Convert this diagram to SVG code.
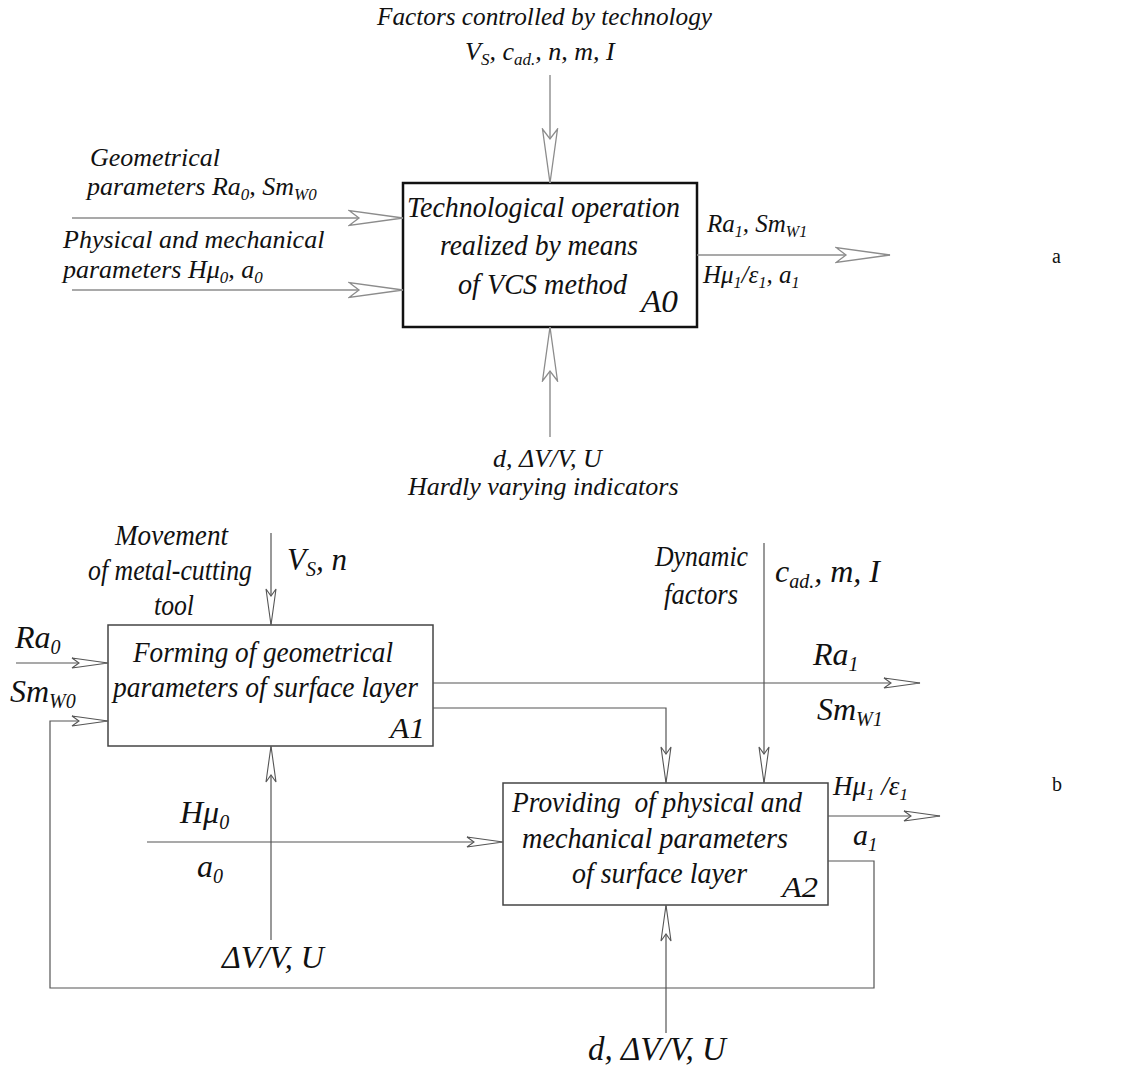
<svg xmlns="http://www.w3.org/2000/svg" width="1137" height="1068" viewBox="0 0 1137 1068">
<style>
.t{font-family:"Liberation Serif","Times New Roman","DejaVu Serif",serif;font-style:italic;fill:#111}
.lbl{font-family:"Liberation Serif","Times New Roman","DejaVu Serif",serif;font-size:20px;fill:#111}
.ca{fill:none;stroke:#8c8c8c;stroke-width:1.4}
.cb{fill:none;stroke:#555;stroke-width:1.2}
.boxA{fill:#fff;stroke:#111;stroke-width:2.5}
.boxB{fill:#fff;stroke:#444;stroke-width:1.5}
</style>
<defs>
<marker id="ha" markerUnits="userSpaceOnUse" viewBox="0 -9 57 18" markerWidth="57" markerHeight="18" refX="55" refY="0" orient="auto">
<path d="M55,0 L1,-7.5 L11,0 L1,7.5 Z" fill="#fff" stroke="#8c8c8c" stroke-width="1.3"/>
</marker>
<marker id="hb" markerUnits="userSpaceOnUse" viewBox="0 -7 39 14" markerWidth="39" markerHeight="14" refX="37" refY="0" orient="auto">
<path d="M37,0 L1,-5 L8,0 L1,5 Z" fill="#fff" stroke="#555" stroke-width="1.1"/>
</marker>
</defs>
<rect width="1137" height="1068" fill="#fff"/>

<g id="node-A0">
<rect class="boxA" x="403" y="183" width="294" height="144"/>
<text class="t" x="407" y="217" font-size="30" textLength="273" lengthAdjust="spacingAndGlyphs">Technological operation</text>
<text class="t" x="440" y="255" font-size="30" textLength="198" lengthAdjust="spacingAndGlyphs">realized by means</text>
<text class="t" x="458" y="294" font-size="30" textLength="169" lengthAdjust="spacingAndGlyphs">of VCS method</text>
<text class="t" x="641" y="312" font-size="31" textLength="37" lengthAdjust="spacingAndGlyphs">A0</text>
</g>

<g id="node-A1">
<rect class="boxB" x="108" y="625" width="325" height="121"/>
<text class="t" x="133" y="662" font-size="29" textLength="260" lengthAdjust="spacingAndGlyphs">Forming of geometrical</text>
<text class="t" x="113" y="697" font-size="29" textLength="305" lengthAdjust="spacingAndGlyphs">parameters of surface layer</text>
<text class="t" x="390" y="738" font-size="29" textLength="35" lengthAdjust="spacingAndGlyphs">A1</text>
</g>

<g id="node-A2">
<rect class="boxB" x="503" y="783" width="325" height="122"/>
<text class="t" x="512" y="812" font-size="29" textLength="290" lengthAdjust="spacingAndGlyphs" xml:space="preserve">Providing  of physical and</text>
<text class="t" x="522" y="848" font-size="29" textLength="266" lengthAdjust="spacingAndGlyphs">mechanical parameters</text>
<text class="t" x="572" y="883" font-size="29" textLength="175" lengthAdjust="spacingAndGlyphs">of surface layer</text>
<text class="t" x="782" y="897" font-size="30" textLength="36" lengthAdjust="spacingAndGlyphs">A2</text>
</g>

<g id="connectors">
<path class="ca" d="M550,75 V183" marker-end="url(#ha)"/>
<path class="ca" d="M550,437 V327" marker-end="url(#ha)"/>
<path class="ca" d="M72,218 H403" marker-end="url(#ha)"/>
<path class="ca" d="M72,290 H403" marker-end="url(#ha)"/>
<path class="ca" d="M697,255 H890" marker-end="url(#ha)"/>

<path class="cb" d="M271,533 V625" marker-end="url(#hb)"/>
<path class="cb" d="M271,940 V746" marker-end="url(#hb)"/>
<path class="cb" d="M16,663 H108" marker-end="url(#hb)"/>
<path class="cb" d="M828,861 H874 V988 H50 V721 H108" marker-end="url(#hb)"/>
<path class="cb" d="M147,842 H503" marker-end="url(#hb)"/>
<path class="cb" d="M433,683 H920" marker-end="url(#hb)"/>
<path class="cb" d="M433,708 H666 V783" marker-end="url(#hb)"/>
<path class="cb" d="M764,543 V783" marker-end="url(#hb)"/>
<path class="cb" d="M666,1033 V905" marker-end="url(#hb)"/>
<path class="cb" d="M828,816 H940" marker-end="url(#hb)"/>
</g>

<g id="labels-a">
<text class="t" x="377" y="25" font-size="25" textLength="335" lengthAdjust="spacingAndGlyphs">Factors controlled by technology</text>
<text class="t" x="465" y="60" font-size="26">V<tspan font-size="17" dy="5">S</tspan><tspan dy="-5">, c</tspan><tspan font-size="17" dy="5">ad.</tspan><tspan dy="-5">, n, m, I</tspan></text>
<text class="t" x="90" y="166" font-size="26">Geometrical</text>
<text class="t" x="87" y="195" font-size="26">parameters Ra<tspan font-size="17" dy="5">0</tspan><tspan dy="-5">, Sm</tspan><tspan font-size="17" dy="5">W0</tspan></text>
<text class="t" x="63" y="248" font-size="26">Physical and mechanical</text>
<text class="t" x="63" y="278" font-size="26">parameters Hμ<tspan font-size="17" dy="5">0</tspan><tspan dy="-5">, a</tspan><tspan font-size="17" dy="5">0</tspan></text>
<text class="t" x="707" y="232" font-size="25">Ra<tspan font-size="16" dy="5">1</tspan><tspan dy="-5">, Sm</tspan><tspan font-size="16" dy="5">W1</tspan></text>
<text class="t" x="703" y="283" font-size="25">Hμ<tspan font-size="16" dy="5">1</tspan><tspan dy="-5">/ε</tspan><tspan font-size="16" dy="5">1</tspan><tspan dy="-5">, a</tspan><tspan font-size="16" dy="5">1</tspan></text>
<text class="t" x="493" y="467" font-size="26">d, ΔV/V, U</text>
<text class="t" x="408" y="495" font-size="26">Hardly varying indicators</text>
<text class="lbl" x="1052" y="263">a</text>
</g>

<g id="labels-b">
<text class="t" x="115" y="545" font-size="30" textLength="113" lengthAdjust="spacingAndGlyphs">Movement</text>
<text class="t" x="88" y="580" font-size="30" textLength="164" lengthAdjust="spacingAndGlyphs">of metal-cutting</text>
<text class="t" x="154" y="615" font-size="30" textLength="40" lengthAdjust="spacingAndGlyphs">tool</text>
<text class="t" x="287" y="570" font-size="31">V<tspan font-size="20" dy="6">S</tspan><tspan dy="-6">, n</tspan></text>
<text class="t" x="655" y="566" font-size="29" textLength="93" lengthAdjust="spacingAndGlyphs">Dynamic</text>
<text class="t" x="664" y="604" font-size="29" textLength="74" lengthAdjust="spacingAndGlyphs">factors</text>
<text class="t" x="775" y="582" font-size="32">c<tspan font-size="20" dy="6">ad.</tspan><tspan dy="-6">, m, I</tspan></text>
<text class="t" x="15" y="648" font-size="32">Ra<tspan font-size="20" dy="6">0</tspan></text>
<text class="t" x="10" y="702" font-size="32">Sm<tspan font-size="20" dy="6">W0</tspan></text>
<text class="t" x="180" y="823" font-size="32">Hμ<tspan font-size="20" dy="6">0</tspan></text>
<text class="t" x="197" y="877" font-size="32">a<tspan font-size="20" dy="6">0</tspan></text>
<text class="t" x="222" y="968" font-size="32">ΔV/V, U</text>
<text class="t" x="813" y="665" font-size="32">Ra<tspan font-size="20" dy="6">1</tspan></text>
<text class="t" x="817" y="720" font-size="32">Sm<tspan font-size="20" dy="6">W1</tspan></text>
<text class="t" x="833" y="795" font-size="27">Hμ<tspan font-size="17" dy="5">1</tspan><tspan dy="-5"> /ε</tspan><tspan font-size="17" dy="5">1</tspan></text>
<text class="t" x="853" y="845" font-size="30">a<tspan font-size="19" dy="6">1</tspan></text>
<text class="t" x="588" y="1060" font-size="33">d, ΔV/V, U</text>
<text class="lbl" x="1052" y="791">b</text>
</g>
</svg>
